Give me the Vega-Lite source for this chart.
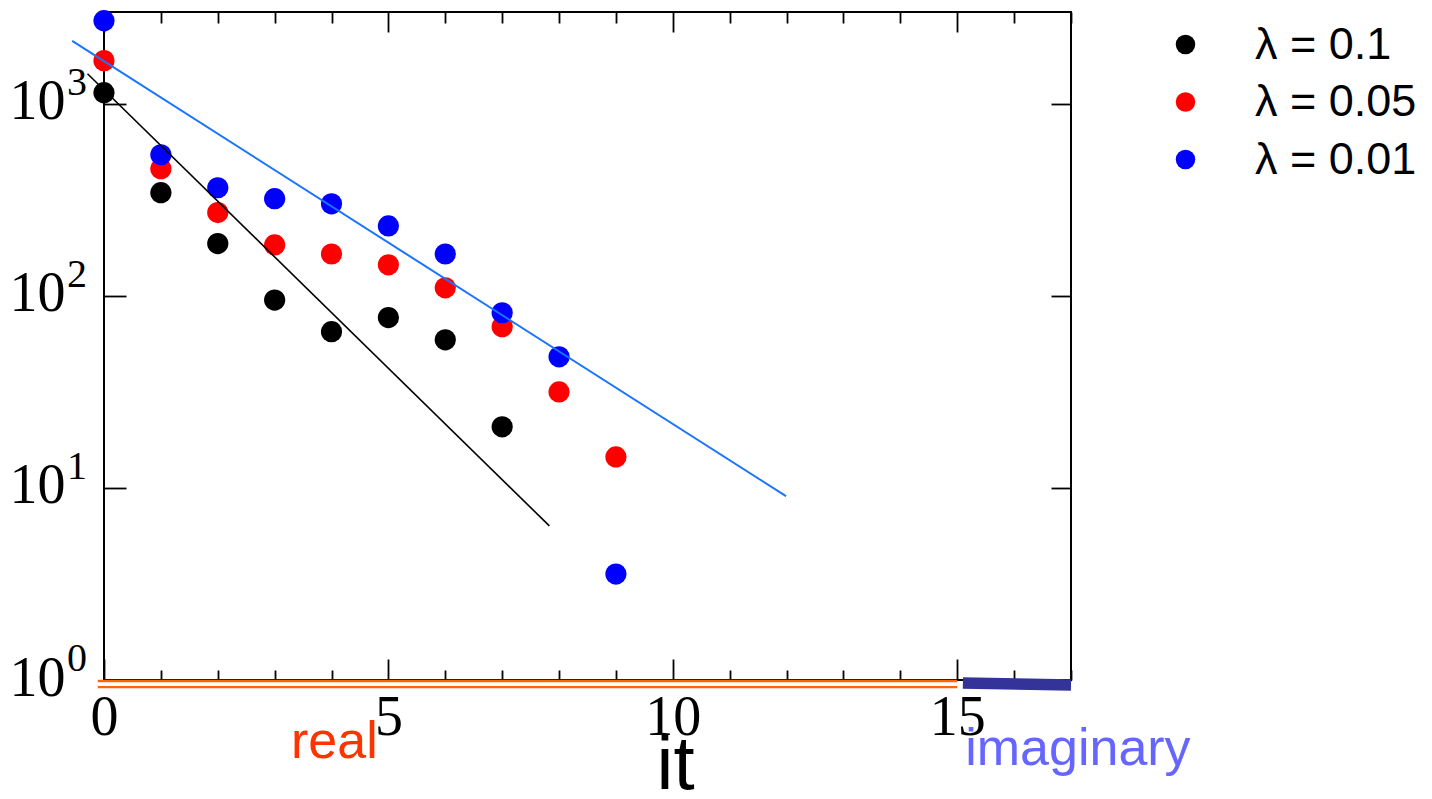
{
  "$schema": "https://vega.github.io/schema/vega-lite/v6.json",
  "width": 967,
  "height": 668,
  "autosize": {"type": "none"},
  "padding": {"left": 104, "top": 12, "right": 361, "bottom": 119},
  "background": "white",
  "config": {
    "view": {"stroke": "black", "strokeWidth": 2},
    "axis": {"grid": false, "domain": false, "tickColor": "black", "tickWidth": 1.8, "labelColor": "black", "titleColor": "black"}
  },
  "datasets": {
    "points": [
      {"it": 0, "value": 1140, "lambda": "λ = 0.1"},
      {"it": 1, "value": 344, "lambda": "λ = 0.1"},
      {"it": 2, "value": 187, "lambda": "λ = 0.1"},
      {"it": 3, "value": 95, "lambda": "λ = 0.1"},
      {"it": 4, "value": 65, "lambda": "λ = 0.1"},
      {"it": 5, "value": 77, "lambda": "λ = 0.1"},
      {"it": 6, "value": 59, "lambda": "λ = 0.1"},
      {"it": 7, "value": 20.8, "lambda": "λ = 0.1"},
      {"it": 0, "value": 1675, "lambda": "λ = 0.05"},
      {"it": 1, "value": 459, "lambda": "λ = 0.05"},
      {"it": 2, "value": 271, "lambda": "λ = 0.05"},
      {"it": 3, "value": 184, "lambda": "λ = 0.05"},
      {"it": 4, "value": 165, "lambda": "λ = 0.05"},
      {"it": 5, "value": 145, "lambda": "λ = 0.05"},
      {"it": 6, "value": 110, "lambda": "λ = 0.05"},
      {"it": 7, "value": 69, "lambda": "λ = 0.05"},
      {"it": 8, "value": 31.6, "lambda": "λ = 0.05"},
      {"it": 9, "value": 14.5, "lambda": "λ = 0.05"},
      {"it": 0, "value": 2705, "lambda": "λ = 0.01"},
      {"it": 1, "value": 542, "lambda": "λ = 0.01"},
      {"it": 2, "value": 365, "lambda": "λ = 0.01"},
      {"it": 3, "value": 320, "lambda": "λ = 0.01"},
      {"it": 4, "value": 301, "lambda": "λ = 0.01"},
      {"it": 5, "value": 231, "lambda": "λ = 0.01"},
      {"it": 6, "value": 165, "lambda": "λ = 0.01"},
      {"it": 7, "value": 81.6, "lambda": "λ = 0.01"},
      {"it": 8, "value": 48.1, "lambda": "λ = 0.01"},
      {"it": 9, "value": 3.56, "lambda": "λ = 0.01"}
    ],
    "fitBlack": [
      {"it": -0.29, "value": 1432},
      {"it": 7.83, "value": 6.34}
    ],
    "fitBlue": [
      {"it": -0.56, "value": 2122},
      {"it": 11.99, "value": 9.05}
    ],
    "real": [
      {"it": -0.11, "value": 0.988, "grp": "a"},
      {"it": 15.0, "value": 0.988, "grp": "a"},
      {"it": -0.11, "value": 0.919, "grp": "b"},
      {"it": 15.0, "value": 0.919, "grp": "b"}
    ],
    "imag": [
      {"it": 15.1, "value": 0.965},
      {"it": 17.0, "value": 0.942}
    ],
    "exponents": [
      {"it": 0, "value": 1, "exp": "0"},
      {"it": 0, "value": 10, "exp": "1"},
      {"it": 0, "value": 100, "exp": "2"},
      {"it": 0, "value": 1000, "exp": "3"}
    ],
    "realLabel": [{"it": 4.05, "value": 0.392, "text": "real"}],
    "imagLabel": [{"it": 15.14, "value": 0.361, "text": "imaginary"}]
  },
  "resolve": {"axis": {"x": "independent", "y": "independent"}},
  "layer": [
    {
      "data": {"name": "points"},
      "mark": {"type": "point", "shape": "circle", "filled": true, "opacity": 1, "size": 450, "clip": false},
      "encoding": {
        "x": {
          "field": "it", "type": "quantitative",
          "scale": {"domain": [0, 17], "nice": false, "zero": false},
          "axis": {
            "orient": "bottom",
            "values": [0,1,2,3,4,5,6,7,8,9,10,11,12,13,14,15,16,17],
            "tickSize": {"condition": {"test": "datum.value % 5 === 0", "value": -21}, "value": -10},
            "labelExpr": "datum.value % 5 === 0 ? datum.label : ''",
            "labelFont": "Liberation Serif", "labelFontSize": 56,
            "labelPadding": {"condition": {"test": "datum.value % 5 === 0", "value": 31}, "value": 20},
            "labelFlush": false, "labelOverlap": false,
            "title": "it", "titleFont": "Liberation Sans", "titleFontSize": 76, "titleFontWeight": "normal",
            "titleX": 571, "titleY": 108, "titleBaseline": "alphabetic", "titleAlign": "center", "titleAnchor": null
          }
        },
        "y": {
          "field": "value", "type": "quantitative",
          "scale": {"type": "log", "domain": [1, 3000], "nice": false},
          "axis": {
            "orient": "left",
            "values": [1, 10, 100, 1000],
            "tickSize": -22,
            "labelExpr": "'10'",
            "labelFont": "Liberation Serif", "labelFontSize": 56,
            "labelPadding": 61, "labelFlush": false, "labelOverlap": false,
            "labelBaseline": "middle", "labelOffset": -2,
            "title": null
          }
        },
        "color": {
          "field": "lambda", "type": "nominal",
          "scale": {"domain": ["λ = 0.1", "λ = 0.05", "λ = 0.01"], "range": ["#000000", "#ff0000", "#0000ff"]},
          "legend": {
            "orient": "none", "legendX": 1059, "legendY": 10, "title": null, "padding": 0,
            "labelFont": "Liberation Sans", "labelFontSize": 45, "labelColor": "black", "labelLimit": 0,
            "symbolType": "circle", "symbolSize": 380, "symbolStrokeWidth": 0,
            "rowPadding": 11.5, "labelOffset": 47
          }
        }
      }
    },
    {
      "data": {"name": "fitBlack"},
      "mark": {"type": "line", "color": "#000000", "strokeWidth": 1.6, "clip": false},
      "encoding": {
        "x": {
          "field": "it", "type": "quantitative",
          "axis": {
            "orient": "top",
            "values": [0,1,2,3,4,5,6,7,8,9,10,11,12,13,14,15,16,17],
            "tickSize": {"condition": {"test": "datum.value % 5 === 0", "value": -20}, "value": -11},
            "labels": false, "title": null
          }
        },
        "y": {
          "field": "value", "type": "quantitative",
          "axis": {"orient": "right", "values": [1, 10, 100, 1000], "tickSize": -20, "labels": false, "title": null}
        }
      }
    },
    {
      "data": {"name": "fitBlue"},
      "mark": {"type": "line", "color": "#1a74ff", "strokeWidth": 2, "clip": false},
      "encoding": {
        "x": {"field": "it", "type": "quantitative", "axis": null},
        "y": {"field": "value", "type": "quantitative", "axis": null}
      }
    },
    {
      "data": {"name": "real"},
      "mark": {"type": "line", "color": "#ff6600", "strokeWidth": 2.3, "clip": false},
      "encoding": {
        "x": {"field": "it", "type": "quantitative", "axis": null},
        "y": {"field": "value", "type": "quantitative", "axis": null},
        "detail": {"field": "grp"}
      }
    },
    {
      "data": {"name": "imag"},
      "mark": {"type": "line", "color": "#333399", "strokeWidth": 11.5, "strokeCap": "butt", "clip": false},
      "encoding": {
        "x": {"field": "it", "type": "quantitative", "axis": null},
        "y": {"field": "value", "type": "quantitative", "axis": null}
      }
    },
    {
      "data": {"name": "exponents"},
      "mark": {"type": "text", "color": "black", "font": "Liberation Serif", "fontSize": 40, "align": "right", "baseline": "middle", "dx": -17, "dy": -21, "clip": false},
      "encoding": {
        "x": {"field": "it", "type": "quantitative", "axis": null},
        "y": {"field": "value", "type": "quantitative", "axis": null},
        "text": {"field": "exp"}
      }
    },
    {
      "data": {"name": "realLabel"},
      "mark": {"type": "text", "color": "#ff3300", "font": "Liberation Sans", "fontSize": 52, "align": "center", "baseline": "alphabetic", "clip": false},
      "encoding": {
        "x": {"field": "it", "type": "quantitative", "axis": null},
        "y": {"field": "value", "type": "quantitative", "axis": null},
        "text": {"field": "text"}
      }
    },
    {
      "data": {"name": "imagLabel"},
      "mark": {"type": "text", "color": "#6666ff", "font": "Liberation Sans", "fontSize": 52, "align": "left", "baseline": "alphabetic", "clip": false},
      "encoding": {
        "x": {"field": "it", "type": "quantitative", "axis": null},
        "y": {"field": "value", "type": "quantitative", "axis": null},
        "text": {"field": "text"}
      }
    }
  ]
}
